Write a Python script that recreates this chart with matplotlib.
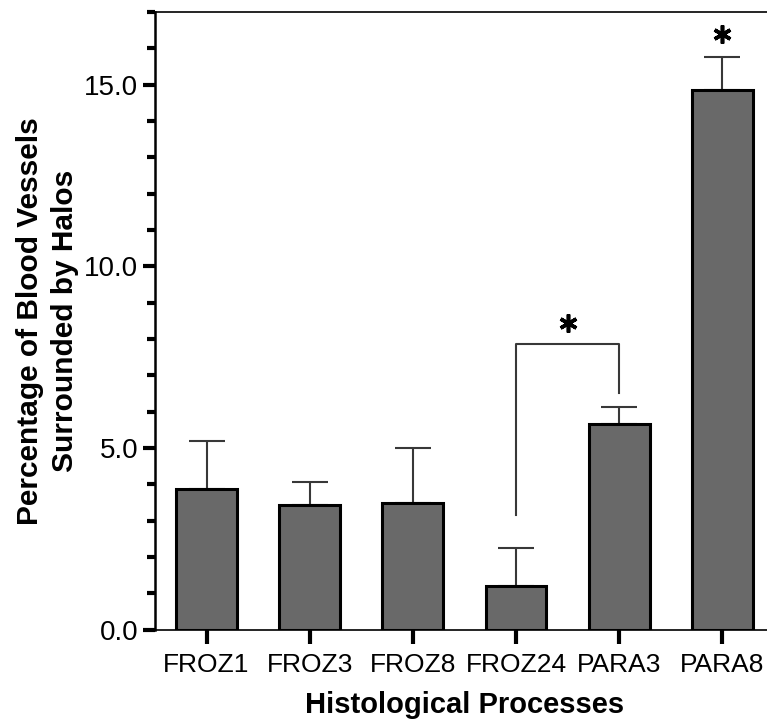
import matplotlib
matplotlib.use("Agg")
import matplotlib.pyplot as plt
from matplotlib.ticker import MultipleLocator, FormatStrFormatter

plt.rcParams['font.family'] = ['Liberation Sans', 'DejaVu Sans']

# data
groups = ['FROZ1', 'FROZ3', 'FROZ8', 'FROZ24', 'PARA3', 'PARA8']
means = [3.88, 3.42, 3.48, 1.20, 5.65, 14.84]
errors = [1.30, 0.65, 1.52, 1.05, 0.47, 0.92]

# significance bracket between FROZ24 and PARA3, star over PARA8
bracket_pair = (3, 4)
bracket_height = 7.85
bracket_left_bottom = 3.15
bracket_right_bottom = 6.5
star_x = [3.5, 5]
star_y = [8.45, 16.4]

fig = plt.figure(figsize=(7.67, 7.25), dpi=100)
ax = fig.add_axes([0.202, 0.1317, 0.807, 0.8517])

x = list(range(len(groups)))
ax.bar(x, means, width=0.59, color='#696969', edgecolor='black',
       linewidth=2.2, zorder=3)
ax.errorbar(x, means, yerr=[[0] * len(errors), errors], fmt='none',
            ecolor='#383838', elinewidth=1.5, capsize=13, capthick=1.5,
            zorder=2)

# bracket
x0, x1 = bracket_pair
ax.plot([x0, x0, x1, x1],
        [bracket_left_bottom, bracket_height, bracket_height, bracket_right_bottom],
        color='#383838', lw=1.5, zorder=4)
ax.plot(star_x, star_y, linestyle='none', marker=(6, 2, 0), markersize=13,
        markeredgewidth=2.6, color='black', zorder=5)

ax.set_xlim(-0.5, 5.5)
ax.set_ylim(0, 17)
ax.set_xticks(x)
ax.set_xticklabels(groups, fontsize=19)
ax.yaxis.set_major_locator(MultipleLocator(5))
ax.yaxis.set_minor_locator(MultipleLocator(1))
ax.yaxis.set_major_formatter(FormatStrFormatter('%.1f'))
ax.tick_params(axis='y', which='major', length=9, width=3, labelsize=20, pad=3)
ax.tick_params(axis='y', which='minor', length=6, width=3)
ax.tick_params(axis='x', which='major', length=10, width=3, pad=7)

ax.spines['right'].set_visible(False)
ax.spines['left'].set_linewidth(1.8)
ax.spines['bottom'].set_linewidth(1.2)
ax.spines['top'].set_linewidth(1.2)

ax.set_xlabel('Histological Processes', fontsize=21, fontweight='bold', labelpad=10)
ax.set_ylabel('Percentage of Blood Vessels\nSurrounded by Halos', fontsize=21.5,
              fontweight='bold', labelpad=4, linespacing=1.3)

fig.savefig('out.png', dpi=100)
